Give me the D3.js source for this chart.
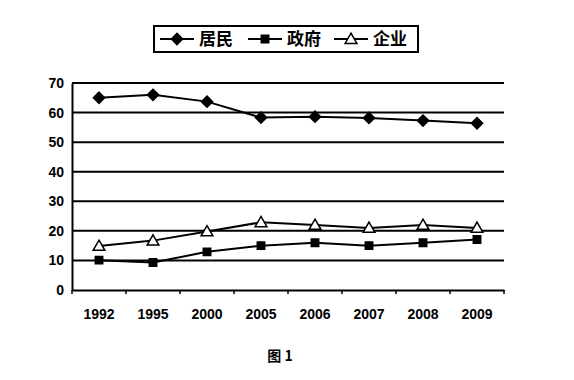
<html>
<script src='https://d3js.org/d3.v7.min.js'></script>
<style>
  body { margin: 0; background: #fff; }
  text { font-family: "Liberation Sans", Arial, sans-serif; font-weight: bold; fill: #000; }
  .cjk { font-family: "Noto Sans CJK SC", sans-serif; }
</style>
<body>
<script>
var years = ["1992", "1995", "2000", "2005", "2006", "2007", "2008", "2009"];
var jumin = [65, 66, 63.7, 58.3, 58.6, 58.2, 57.3, 56.4];
var zhengfu = [10.1, 9.3, 12.9, 15, 16, 15, 16, 17.1];
var qiye = [14.9, 16.7, 19.8, 22.9, 22, 21, 22, 21];
var yTicks = [0, 10, 20, 30, 40, 50, 60, 70];
var seriesNames = ["居民", "政府", "企业"];

var W = 574, H = 380;
var mLeft = 72, mRight = 504, mTop = 83, mBottom = 290;

var svg = d3.select("body").append("svg").attr("width", W).attr("height", H);

var x = d3.scaleBand().domain(years).range([mLeft, mRight]);
var y = d3.scaleLinear().domain([0, 70]).range([mBottom, mTop]);

// gridlines
svg.selectAll(".grid").data(yTicks.slice(1)).enter().append("line")
  .attr("x1", mLeft).attr("x2", mRight)
  .attr("y1", d => y(d)).attr("y2", d => y(d))
  .attr("stroke", "#000").attr("stroke-width", 2);

// y axis
var yAxis = svg.append("g").attr("transform", "translate(" + mLeft + ",0)")
  .call(d3.axisLeft(y).tickValues(yTicks).tickSize(0).tickPadding(8));
yAxis.select(".domain").attr("stroke-width", 2);
yAxis.selectAll("text").style("font-size", "14px");

// x axis
var xAxis = svg.append("g").attr("transform", "translate(0," + mBottom + ")")
  .call(d3.axisBottom(x).tickSize(0).tickPadding(19));
xAxis.select(".domain").attr("stroke-width", 2);
xAxis.selectAll("text").style("font-size", "14px");
svg.selectAll(".xtick").data(d3.range(years.length + 1)).enter().append("line")
  .attr("x1", i => mLeft + i * x.step()).attr("x2", i => mLeft + i * x.step())
  .attr("y1", mBottom).attr("y2", mBottom + 4)
  .attr("stroke", "#000").attr("stroke-width", 1.5);

var cx = d => x(d) + x.bandwidth() / 2;
var allSeries = [jumin, zhengfu, qiye];
var symbols = [d3.symbolDiamond2, d3.symbolSquare, d3.symbolTriangle];
var sizes = [80, 55, 60];
var fills = ["#000", "#000", "#fff"];

allSeries.forEach(function(vals, k) {
  var line = d3.line().x((d, i) => cx(years[i])).y(d => y(d));
  svg.append("path").datum(vals).attr("d", line)
    .attr("fill", "none").attr("stroke", "#000").attr("stroke-width", 2);
  svg.selectAll(".m" + k).data(vals).enter().append("path")
    .attr("d", d3.symbol().type(symbols[k]).size(sizes[k]))
    .attr("transform", (d, i) => "translate(" + cx(years[i]) + "," + (y(d) + (k == 2 ? 1 : 0)) + ")")
    .attr("fill", fills[k]).attr("stroke", "#000").attr("stroke-width", 1.5);
});

// legend
var lg = svg.append("g");
lg.append("rect").attr("x", 154).attr("y", 26).attr("width", 264).attr("height", 26)
  .attr("fill", "#fff").attr("stroke", "#000").attr("stroke-width", 2);
var lx = [160, 248, 334];
seriesNames.forEach(function(n, k) {
  lg.append("line").attr("x1", lx[k]).attr("x2", lx[k] + 34).attr("y1", 39).attr("y2", 39)
    .attr("stroke", "#000").attr("stroke-width", 2);
  lg.append("path").attr("d", d3.symbol().type(symbols[k]).size(sizes[k]))
    .attr("transform", "translate(" + (lx[k] + 17) + "," + (39 + (k == 2 ? 1 : 0)) + ")")
    .attr("fill", fills[k]).attr("stroke", "#000").attr("stroke-width", 1.5);
  lg.append("text").attr("class", "cjk").attr("x", lx[k] + 39).attr("y", 45)
    .style("font-size", "17px").text(n);
});

svg.append("text").attr("class", "cjk").attr("x", 280).attr("y", 361)
  .attr("text-anchor", "middle").style("font-size", "14px").text("图 1");
</script>
</body>
</html>
